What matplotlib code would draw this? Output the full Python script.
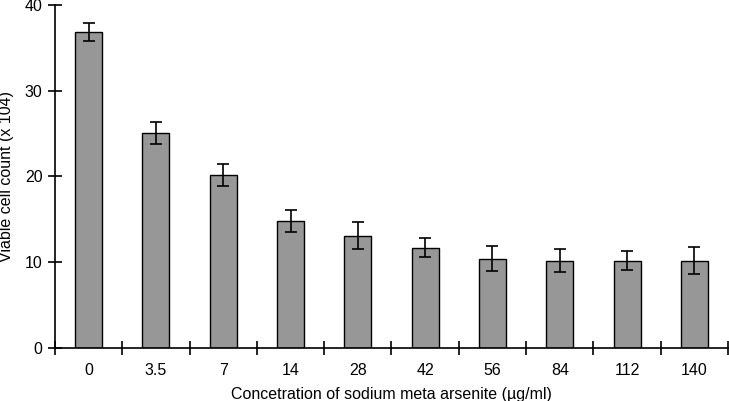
import matplotlib.pyplot as plt
import numpy as np

plt.rcParams['font.family'] = ['Liberation Sans', 'DejaVu Sans']

# Concentration categories (ug/ml) and viable cell counts (x 10^4)
concentrations = ['0', '3.5', '7', '14', '28', '42', '56', '84', '112', '140']
counts = [36.8, 25.1, 20.2, 14.85, 13.1, 11.7, 10.4, 10.2, 10.2, 10.2]
errors = [1.05, 1.3, 1.3, 1.3, 1.6, 1.1, 1.45, 1.3, 1.1, 1.6]

if __name__ == '__main__':
    fig = plt.figure(figsize=(7.29, 4.01), dpi=100)
    ax = fig.add_axes([55/729, 53/401, 673/729, 343/401])

    x = np.arange(len(concentrations))
    ax.bar(x, counts, width=0.4, color='#979797', edgecolor='black', linewidth=1.0,
           yerr=errors, capsize=4, error_kw={'elinewidth': 1.2, 'capthick': 1.2})

    ax.set_xlim(-0.5, len(concentrations) - 0.5)
    ax.set_ylim(0, 40)
    ax.set_yticks([0, 10, 20, 30, 40])

    # category labels under the bars, tick marks between them
    ax.set_xticks(np.arange(len(concentrations) + 1) - 0.5)
    ax.set_xticklabels([])
    ax.set_xticks(x, minor=True)
    ax.set_xticklabels(concentrations, minor=True, fontsize=11.5)
    ax.tick_params(axis='x', which='minor', length=0, pad=11)
    ax.tick_params(axis='x', which='major', direction='inout', length=10, width=1.2)
    ax.tick_params(axis='y', direction='inout', length=10, width=1.2, labelsize=11.5, pad=4)

    ax.spines['top'].set_visible(False)
    ax.spines['right'].set_visible(False)
    ax.spines['left'].set_linewidth(1.2)
    ax.spines['bottom'].set_linewidth(1.2)

    ax.set_xlabel('Concetration of sodium meta arsenite (\u00b5g/ml)', fontsize=11.5, labelpad=6)
    ax.set_ylabel('Viable cell count (x 104)', fontsize=11.5, labelpad=8)

    fig.savefig('out.png', dpi=100)
